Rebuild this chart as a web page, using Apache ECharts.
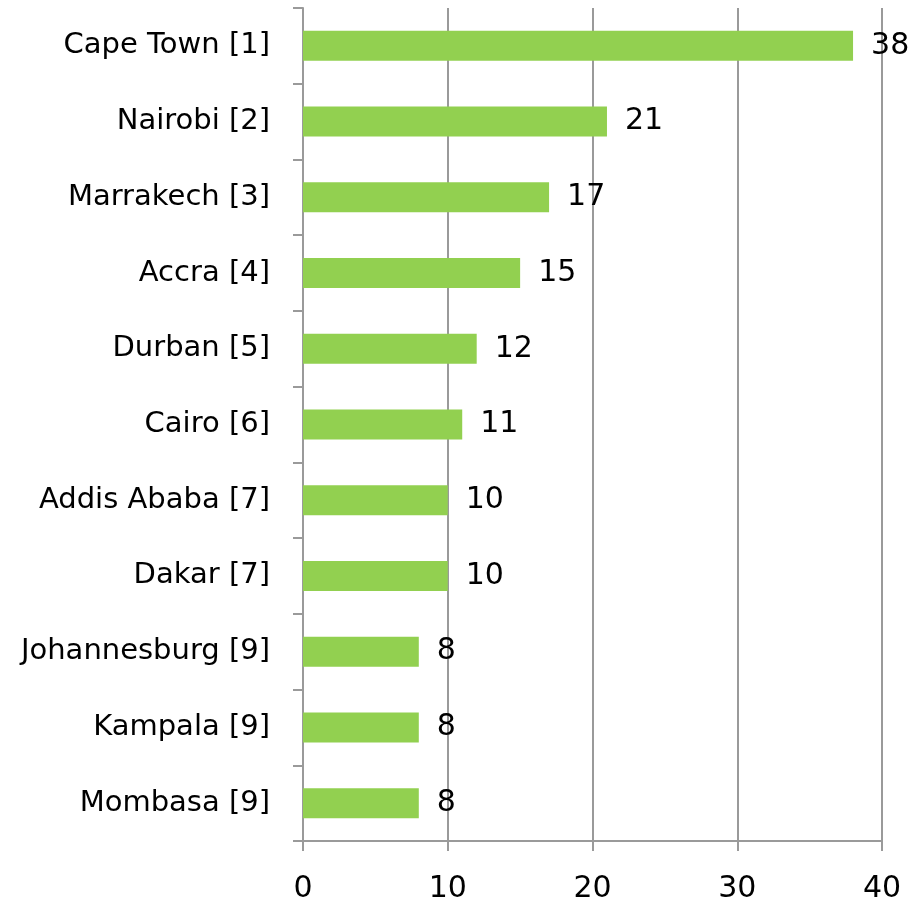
<!DOCTYPE html>
<html>
<head>
<meta charset="utf-8">
<script src="https://cdn.jsdelivr.net/npm/echarts@6/dist/echarts.min.js"></script>
<style>
  html, body { margin: 0; padding: 0; background: #fff; }
  #main { width: 924px; height: 910px; }
</style>
</head>
<body>
<div id="main"></div>
<script>
var cities = ['Cape Town [1]', 'Nairobi [2]', 'Marrakech [3]', 'Accra [4]', 'Durban [5]', 'Cairo [6]',
              'Addis Ababa [7]', 'Dakar [7]', 'Johannesburg [9]', 'Kampala [9]', 'Mombasa [9]'];
var counts = [38, 21, 17, 15, 12, 11, 10, 10, 8, 8, 8];

var axisGray = '#9a9a9a';
var font = '"DejaVu Sans", sans-serif';

option = {
    animation: false,
    grid: {
        left: 303,
        right: 42,
        top: 8,
        bottom: 69
    },
    xAxis: {
        type: 'value',
        min: 0,
        max: 40,
        interval: 10,
        axisLine: { show: true, lineStyle: { color: axisGray, width: 2 } },
        axisTick: { show: true, length: 10, lineStyle: { color: axisGray, width: 2 } },
        splitLine: { show: true, lineStyle: { color: axisGray, width: 2 } },
        axisLabel: { color: '#000', fontSize: 30, fontFamily: font, margin: 33 }
    },
    yAxis: {
        type: 'category',
        inverse: true,
        data: cities,
        axisLine: { show: true, lineStyle: { color: axisGray, width: 2 } },
        axisTick: { show: true, length: 10, lineStyle: { color: axisGray, width: 2 } },
        axisLabel: { color: '#000', fontSize: 29, fontFamily: font, margin: 33, padding: [4, 0, 0, 0] }
    },
    series: [
        {
            type: 'bar',
            data: counts,
            barWidth: 30,
            itemStyle: { color: '#92d050' },
            label: {
                show: true,
                position: 'right',
                distance: 18,
                color: '#000',
                fontSize: 30,
                fontFamily: font,
                padding: [4, 0, 0, 0]
            }
        }
    ]
};

var chart = echarts.init(document.getElementById('main'));
chart.setOption(option);
</script>
</body>
</html>
